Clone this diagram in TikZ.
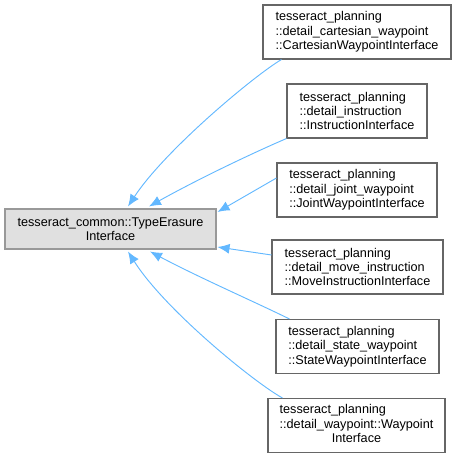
\documentclass[tikz,border=0pt]{standalone}
\usepackage{fontspec}
\setmainfont{Liberation Sans}
\usetikzlibrary{arrows.meta}
\definecolor{edgeblue}{HTML}{63B8FF}
\definecolor{basefill}{HTML}{E0E0E0}
\definecolor{baseline}{HTML}{999999}
\definecolor{boxline}{HTML}{666666}
\tikzset{
  cls/.style={draw=boxline, line width=0.8pt, fill=white, inner sep=0pt, align=left,
    font=\fontsize{9.5}{10.8}\selectfont, minimum height=54*0.75pt},
  basecls/.style={draw=baseline, line width=0.8pt, fill=basefill, inner sep=0pt, align=center,
    font=\fontsize{9.5}{10.2}\selectfont, minimum height=40*0.75pt},
  inh/.style={draw=edgeblue, line width=0.7pt, -{Latex[length=9pt,width=7.5pt]}}
}
\begin{document}
\begin{tikzpicture}[x=0.75pt,y=-0.75pt]
\useasboundingbox (0,0) rectangle (456,459);
\node[basecls, minimum width=211*0.75pt] (base) at (110.5,229) {tesseract\_common::TypeErasure\\Interface};
\node[cls, minimum width=188*0.75pt] (c1) at (357,32) {tesseract\_planning\\::detail\_cartesian\_waypoint\\::CartesianWaypointInterface};
\node[cls, minimum width=140*0.75pt] (c2) at (357,111) {tesseract\_planning\\::detail\_instruction\\::InstructionInterface};
\node[cls, minimum width=160*0.75pt] (c3) at (357,190) {tesseract\_planning\\::detail\_joint\_waypoint\\::JointWaypointInterface};
\node[cls, minimum width=171*0.75pt] (c4) at (357.5,267) {tesseract\_planning\\::detail\_move\_instruction\\::MoveInstructionInterface};
\node[cls, minimum width=163*0.75pt] (c5) at (357.5,346.5) {tesseract\_planning\\::detail\_state\_waypoint\\::StateWaypointInterface};
\node[cls, minimum width=177*0.75pt] (c6) at (356.5,425.5) {\begin{tabular}{@{}l@{}}tesseract\_planning\\::detail\_waypoint::Waypoint\\\multicolumn{1}{@{}c@{}}{Interface}\end{tabular}};

\draw[inh] ([xshift=19*0.75pt]c1.south west) .. controls (255,75) and (165,150) .. ([xshift=17.5*0.75pt,yshift=1.5pt]base.north);
\draw[inh] (c2.south west) .. controls (255,152) and (200,178) .. ([xshift=38.5*0.75pt,yshift=1.5pt]base.north);
\draw[inh] ([yshift=9pt]c3.west) -- ([xshift=0.75pt,yshift=12.75pt]base.east);
\draw[inh] ([yshift=9pt]c4.west) -- ([xshift=0.75pt,yshift=-13.5pt]base.east);
\draw[inh] ([xshift=14*0.75pt]c5.north west) .. controls (255,302) and (200,278) .. ([xshift=39.5*0.75pt,yshift=-1.5pt]base.south);
\draw[inh] ([xshift=15*0.75pt]c6.north west) .. controls (255,383) and (165,310) .. ([xshift=17.5*0.75pt,yshift=-1.5pt]base.south);
\end{tikzpicture}
\end{document}
